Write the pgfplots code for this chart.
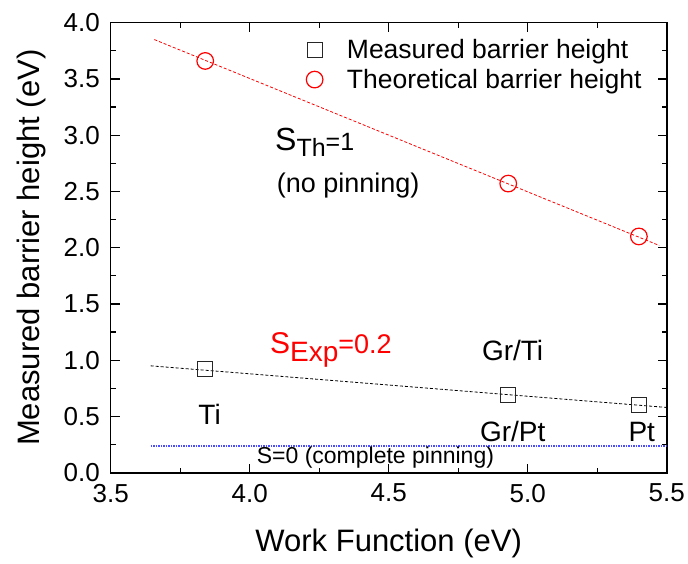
\documentclass[border=0pt]{standalone}
\usepackage{fontspec}
\setmainfont{Liberation Sans}
\usepackage{pgfplots}
\pgfplotsset{compat=1.18}
\newcommand{\fs}[1]{\fontsize{#1}{#1}\selectfont}
\definecolor{sqgray}{rgb}{0.15,0.15,0.15}
\definecolor{dotblue}{rgb}{0.3,0.3,1}
\begin{document}
\begin{tikzpicture}
\begin{axis}[
  name=ax, at={(0,0)}, anchor=south west,
  scale only axis, width=556pt, height=450pt,
  xmin=3.5, xmax=5.5, ymin=0, ymax=4,
  xtick={3.5,4.0,4.5,5.0,5.5},
  ytick={0,0.5,1.0,1.5,2.0,2.5,3.0,3.5,4.0},
  minor tick num=1,
  tick align=inside,
  major tick length=9pt, minor tick length=5pt,
  every tick/.style={line width=1.2pt, black},
  axis line style={line width=1.6pt},
  scaled ticks=false,
  /pgf/number format/assume math mode=true,
  xticklabel style={font=\fs{26}, inner sep=0pt, yshift=-11pt, anchor=north,
    /pgf/number format/fixed, /pgf/number format/fixed zerofill, /pgf/number format/precision=1},
  yticklabel style={font=\fs{26}, inner sep=0pt, xshift=-10.7pt, anchor=east,
    /pgf/number format/fixed, /pgf/number format/fixed zerofill, /pgf/number format/precision=1},
  xlabel={Work Function (eV)},
  ylabel={Measured barrier height (eV)},
  xlabel style={font=\fs{31}, inner sep=0pt, at={(axis description cs:0.5,-0.1756)}, anchor=base},
  ylabel style={font=\fs{31}, inner sep=0pt, at={(axis description cs:-0.1272,0.5)}, anchor=base, rotate=0},
  legend style={at={(axis cs:4.203,3.87)}, anchor=north west, draw=none, fill=none,
    font=\fs{26.5}, row sep=5pt, inner sep=0pt,
    /tikz/every odd column/.append style={column sep=22pt}},
  legend cell align=left,
]
\addplot[red, line width=0.8pt, dash pattern=on 3pt off 2pt, forget plot] coordinates {(3.657,3.85) (5.473,2.02)};
\addplot[black, line width=0.8pt, dash pattern=on 3pt off 2pt, forget plot] coordinates {(3.644,0.95) (5.5,0.58)};
\addplot[color=dotblue, line width=1.6pt, dash pattern=on 1.5pt off 1pt, forget plot] coordinates {(3.644,0.24) (5.5,0.24)};
\addplot[only marks, mark=square, mark size=7.5pt, sqgray, line width=1.2pt] coordinates {(3.84,0.92) (4.93,0.69) (5.40,0.60)};
\addlegendentry{Measured barrier height}
\addplot[only marks, mark=o, mark size=8.3pt, red, line width=1.2pt] coordinates {(3.84,3.66) (4.93,2.57) (5.40,2.10)};
\addlegendentry{Theoretical barrier height}
\node[anchor=base west, inner sep=0pt] at (axis cs:4.091,2.868) {{\fs{32}S}\raisebox{-6.7pt}{\fs{25}Th}{\fs{25}=1}};
\node[anchor=base west, inner sep=0pt, font=\fs{27}] at (axis cs:4.097,2.493) {(no pinning)};
\node[anchor=base west, inner sep=0pt, text=red] at (axis cs:4.073,1.061) {{\fs{30}S}\raisebox{-8.4pt}{\fs{28}Exp}{\fs{27}=0.2}};
\node[anchor=base west, inner sep=0pt, font=\fs{28}] at (axis cs:3.815,0.432) {Ti};
\node[anchor=base west, inner sep=0pt, font=\fs{28}] at (axis cs:4.835,0.996) {Gr/Ti};
\node[anchor=base west, inner sep=0pt, font=\fs{28}] at (axis cs:4.828,0.276) {Gr/Pt};
\node[anchor=base west, inner sep=0pt, font=\fs{28}] at (axis cs:5.362,0.276) {Pt};
\node[anchor=base west, inner sep=0pt, font=\fs{23}] at (axis cs:4.025,0.084) {S=0 (complete pinning)};
\end{axis}
\pgfresetboundingbox
\path[use as bounding box] ([xshift=-110.7pt,yshift=-90.3pt]ax.south west) rectangle ([xshift=577.3pt,yshift=472.7pt]ax.south west);
\end{tikzpicture}
\end{document}
